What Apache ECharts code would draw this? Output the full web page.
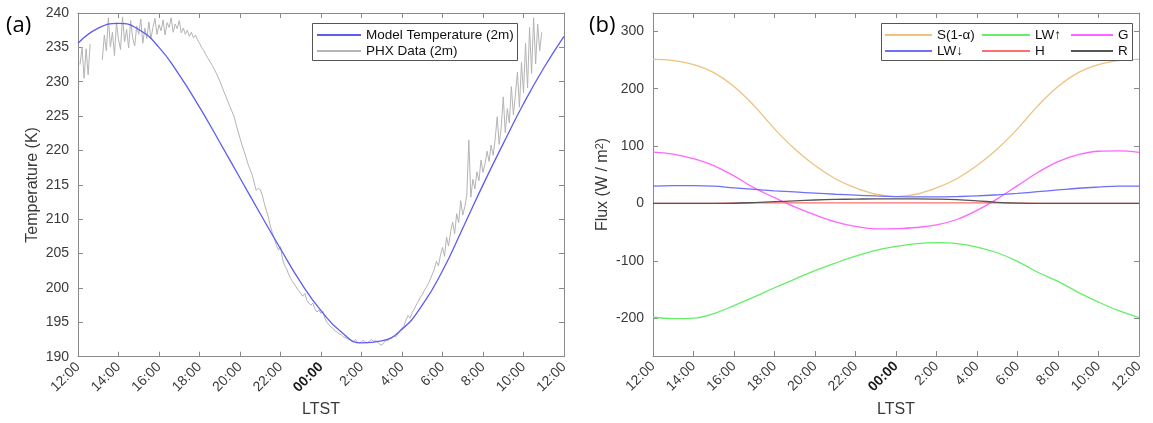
<!DOCTYPE html>
<html><head><meta charset="utf-8">
<script src="https://cdn.jsdelivr.net/npm/echarts@6.0.0/dist/echarts.min.js"></script>
<style>html,body{margin:0;padding:0;background:#fff}#c{width:1153px;height:423px}</style>
</head><body><div id="c"></div>
<script>
// ---- data ----
const tickLabels = ['12:00','14:00','16:00','18:00','20:00','22:00','00:00','2:00','4:00','6:00','8:00','10:00','12:00'];
const tickValues = [0,2,4,6,8,10,12,14,16,18,20,22,24]; // hours after 12:00 LTST
const fluxTicks = [-200,-100,0,100,200,300];

const modelHours = [0,1,2,3,4,5,6,7,8,9,10,11,12,13,14,15,16,17,18,19,20,21,22,23,24];
const modelTemp  = [235.6,237.8,238.5,237.6,235,231,226.3,221.2,216,210.8,205.7,200.8,196.7,193.6,192.0,192.3,194,197.5,202.5,208.7,215,221,226.8,232,236.6];

const phxStart = 0.1, phxStep = 0.1;
const phxTemp = [
 232.5,235,230.5,234.8,231,235.5,
 null,null,null,null,null,
 233.2,236.8,234.5,239.3,235.1,237.2,233.8,238.6,236.1,234.7,239.4,235.8,237.6,234.9,238.9,236.4,235.2,238.1,236.9,239.1,235.6,237.8,236.3,
 238.7,236.2,237.9,239.2,236.9,238.3,237.4,239.0,236.8,238.6,237.9,239.3,237.2,238.4,237.7,238.9,237.1,237.8,236.9,237.5,236.6,237.2,236.4,236.8,236.1,235.6,
 235,234.6,234,233.5,233,232.5,232,231.4,230.8,230.1,229.4,228.6,227.9,227.1,226.4,225.7,225,223.9,222.8,221.8,
 220.8,219.9,219,218,217.2,216.5,
 215.3,214.2,214.5,214.3,213.5,212.3,211.3,210.3,209,208,207.2,206.2,205.5,206,204.2,203.3,202.8,202,201.4,200.9,200.5,200,199.6,199.2,
 198.8,199.2,198.2,197.8,197.5,197.8,196.9,196.5,196.8,196.3,196.6,195.5,195.0,194.6,194.3,194.1,193.7,193.6,193.3,193.2,
 192.9,192.8,192.6,192.5,192.3,192.2,192.5,192.1,192.0,192.2,192.4,192.1,192.0,192.3,192.5,192.2,192.4,192.1,191.8,191.7,
 192.0,192.4,192.3,192.6,192.8,193.0,192.9,193.3,193.8,194.2,194.5,195.4,196.0,195.6,196.4,196.9,197.5,198.0,198.6,199.0,
 199.6,200.1,200.6,201.3,
 202,202.8,203.9,203.2,204.8,205.9,204.6,207.4,206.1,208.2,209.6,207.9,210.8,209.5,212.7,210.6,211.8,213.5,221.5,213.2,
 215.8,214.4,216.9,215.6,218.6,216.8,218.1,219.9,218.4,220.8,219.3,221.6,224.9,220.9,223.4,227.8,222.6,226.1,224.0,229.3,
 225.2,228.1,231.4,226.3,232.8,228.4,235.6,229.1,237.9,231.2,239.3,232.6,238.4,234.5,237.2
];

const fluxHours = [0,1,2,3,4,5,6,7,8,9,10,11,12,13,14,15,16,17,18,19,20,21,22,23,24];
const fluxS      = [251,249,242,228,204,170,130,95,66,43,27,16,12,16,27,43,66,95,130,170,204,228,242,249,251];
const fluxLWup   = [-198,-201,-200,-192,-178,-163,-147,-132,-117,-104,-92,-82,-75,-70,-68.5,-70,-76,-86,-101,-120,-136,-155,-172,-187,-199];
const fluxG      = [89.5,86,78,66,48,27,10,-6,-20,-32,-40,-44.5,-44,-42,-37.5,-28,-12,8,31,54,73,85,91,91.5,89];
const fluxLWdown = [30,31,31,30,27,24.5,22,20,18,16,14.5,13,12,11.5,11.5,12,13,15,17.5,20.5,23.5,26.5,28.5,30,30];
const fluxH      = [0,0,0,0,0.5,1,1,1,1,1,1,1,1,1,1,1,1,1,0.5,0,0,0,0,0,0];
const fluxR      = [0,0,0,0,0.3,1.5,3,4.5,6,7,7.5,8,8,8,7.5,6.5,4.5,2,0.5,0,0,0,0,0,0];

// ---- chart ----
const FONT = '"Liberation Sans", Arial, Helvetica, sans-serif';
const AXC = '#8a8a8a';
const chart = echarts.init(document.getElementById('c'), null, {renderer:'canvas'});
const pair = (xs, ys) => xs.map((x,i) => [x, ys[i]]);
const phxData = phxTemp.map((v,i) => [+(phxStart + i*phxStep).toFixed(2), v === null ? '-' : v]);

function xAx(grid, top) {
  return {
    type:'value', gridIndex:grid, min:0, max:24, interval:2, position: top ? 'top' : 'bottom',
    axisLine:{onZero:false, lineStyle:{color:AXC, width:1}},
    axisTick:{show:true, inside:true, length:5, lineStyle:{color:AXC}},
    splitLine:{show:false},
    axisLabel: top ? {show:false} : {
      show:true, rotate:45, margin:8, fontFamily:FONT, fontSize:14, color:'#3a3a3a',
      formatter: v => { const i = tickValues.indexOf(v); const s = i>=0 ? tickLabels[i] : ''; return s==='00:00' ? '{b|'+s+'}' : s; },
      rich:{b:{fontFamily:FONT, fontSize:14, fontWeight:'bold', color:'#1a1a1a'}}
    },
    name: top ? '' : 'LTST', nameLocation:'middle', nameGap:44,
    nameTextStyle:{fontFamily:FONT, fontSize:16, color:'#3a3a3a'}
  };
}
function yAx(grid, right, min, max, interval, custom, name, gap) {
  const o = {
    type:'value', gridIndex:grid, min:min, max:max, position: right ? 'right' : 'left',
    axisLine:{show:true, onZero:false, lineStyle:{color:AXC, width:1}},
    axisTick:{show:true, inside:true, length:5, lineStyle:{color:AXC}},
    splitLine:{show:false},
    axisLabel: right ? {show:false} : {show:true, margin:9, fontFamily:FONT, fontSize:14, color:'#3a3a3a'},
    name: right ? '' : name, nameLocation:'middle', nameGap:gap,
    nameTextStyle:{fontFamily:FONT, fontSize:16, color:'#3a3a3a', lineHeight:18,
      rich:{s:{fontFamily:FONT, fontSize:11, color:'#3a3a3a', verticalAlign:'top', lineHeight:18, padding:[0,0,6,0]}}}
  };
  if (interval) o.interval = interval;
  if (custom) { o.axisTick.customValues = custom; if (!right) o.axisLabel.customValues = custom; }
  return o;
}

const lineS = (name, xi, yi, data, color, w, z, smooth) => ({
  name:name, type:'line', xAxisIndex:xi, yAxisIndex:yi, data:data, showSymbol:false, symbol:'none',
  smooth: smooth === undefined ? 0.4 : smooth, z:z, lineStyle:{color:color, width:w}, itemStyle:{color:color}, animation:false
});

const C = {S:'#eec27e', LWup:'#66ee66', G:'#ff66ff', LWdown:'#6f6ff8', H:'#ff6f6f', R:'#555555'};

const legendItem = (name, left, top, w) => ({
  show:true, data:[name], left:left, top:top, orient:'horizontal', icon:'rect', itemWidth:w, itemHeight:2,
  selectedMode:false, padding:0, z:20, zlevel:0,
  textStyle:{fontFamily:FONT, fontSize:13.5, color:'#111', lineHeight:14}
});

chart.setOption({
  animation:false,
  backgroundColor:'#fff',
  grid:[
    {left:78, top:13, width:486, height:344},
    {left:653, top:13, width:486, height:343}
  ],
  xAxis:[ xAx(0,false), xAx(0,true), xAx(1,false), xAx(1,true) ],
  yAxis:[
    yAx(0,false,190,240,5,null,'Temperature (K)',34),
    yAx(0,true,190,240,5,null,'',0),
    yAx(1,false,-266,332,null,fluxTicks,'Flux (W / m{s|2})',40),
    yAx(1,true,-266,332,null,fluxTicks,'',0)
  ],
  legend:[
    legendItem('Model Temperature (2m)', 317, 28, 44),
    legendItem('PHX Data (2m)', 317, 44, 44),
    legendItem('S(1-α)', 885, 28, 47),
    legendItem('LW↑', 982, 28, 48),
    legendItem('G', 1071, 28, 42),
    legendItem('LW↓', 885, 44, 47),
    legendItem('H', 982, 44, 48),
    legendItem('R', 1071, 44, 42)
  ],
  graphic:[
    {type:'rect', shape:{x:312.5, y:23.5, width:205, height:37}, style:{fill:'#fff', stroke:'#555', lineWidth:1}, z:8},
    {type:'rect', shape:{x:881.5, y:23.5, width:251, height:37}, style:{fill:'#fff', stroke:'#555', lineWidth:1}, z:8},
    {type:'text', left:6, top:15, style:{text:'(a)', fontFamily:'"Open Sans", sans-serif', fontSize:22, fill:'#000'}},
    {type:'text', left:589, top:15, style:{text:'(b)', fontFamily:'"Open Sans", sans-serif', fontSize:22, fill:'#000'}}
  ],
  series:[
    lineS('PHX Data (2m)', 0, 0, phxData, '#b4b4b4', 1, 3, false),
    lineS('Model Temperature (2m)', 0, 0, pair(modelHours, modelTemp), '#5c5cf2', 1.3, 4, 0.5),
    lineS('S(1-α)', 2, 2, pair(fluxHours, fluxS), C.S, 1.3, 3),
    lineS('LW↑', 2, 2, pair(fluxHours, fluxLWup), C.LWup, 1.3, 3),
    lineS('G', 2, 2, pair(fluxHours, fluxG), C.G, 1.3, 3),
    lineS('LW↓', 2, 2, pair(fluxHours, fluxLWdown), C.LWdown, 1.3, 3),
    lineS('H', 2, 2, pair(fluxHours, fluxH), C.H, 1.3, 3),
    lineS('R', 2, 2, pair(fluxHours, fluxR), C.R, 1.3, 4)
  ]
});
</script></body></html>
